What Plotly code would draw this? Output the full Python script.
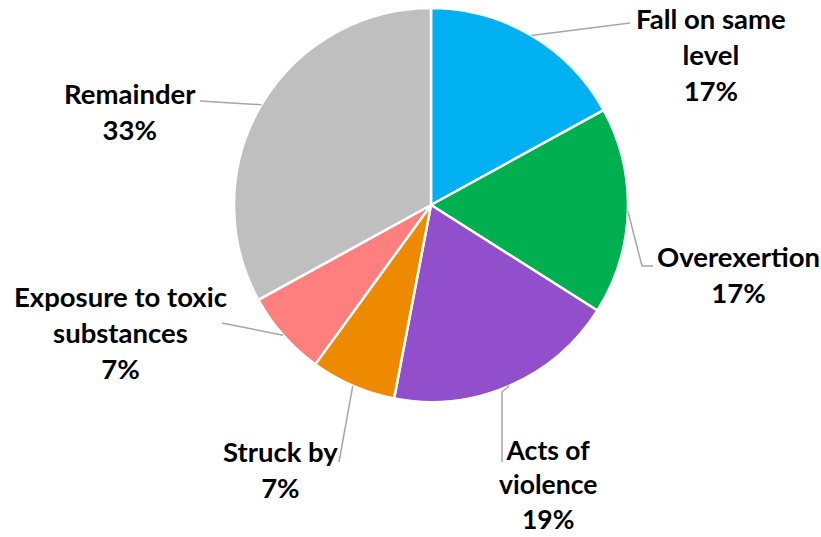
import math
import plotly.graph_objects as go

# Share of cases by event type (clockwise from 12 o'clock)
categories = ["Fall on same level", "Overexertion", "Acts of violence",
              "Struck by", "Exposure to toxic substances", "Remainder"]
values = [17, 17, 19, 7, 7, 33]
label_text = ["Fall on same<br>level", "Overexertion", "Acts of<br>violence",
              "Struck by", "Exposure to toxic<br>substances", "Remainder"]
colors = ["#00B0F0", "#00B050", "#924FCB", "#EE8A00", "#FF7F7F", "#BFBFBF"]

W, H = 821, 537
CX, CY, R = 431, 205, 197

# Label placement (pixel coords) and leader line routing
label_pos = [(711, 54), (738, 274), (548, 484), (280, 469), (120, 332), (130, 111)]
label_size = [27.5, 27.5, 26.5, 27.5, 27.5, 27.5]
leader_elbow = [None, (642, 266), (502, 392), None, None, None]
leader_end = [(630, 23), (653, 266), (502, 462), (339, 462), (222, 323), (200, 101)]

fig = go.Figure()
fig.add_trace(go.Pie(
    labels=categories, values=values, sort=False, direction="clockwise",
    rotation=0, textinfo="none", hoverinfo="label+percent",
    marker=dict(colors=colors, line=dict(color="white", width=2.5)),
    domain=dict(x=[(CX - R) / W, (CX + R) / W],
                y=[(H - CY - R) / H, (H - CY + R) / H]),
    showlegend=False,
))

total = sum(values)
cum = 0
for i, v in enumerate(values):
    mid = (cum + v / 2) / total * 2 * math.pi
    cum += v
    ax, ay = CX + R * math.sin(mid), CY - R * math.cos(mid)
    pts = [(ax, ay)]
    if leader_elbow[i]:
        pts.append(leader_elbow[i])
    pts.append(leader_end[i])
    path = "M " + " L ".join(f"{x},{y}" for x, y in pts)
    fig.add_shape(type="path", path=path, xref="x", yref="y",
                  line=dict(color="#A6A6A6", width=1.5))
    pct = round(v / total * 100)
    fig.add_annotation(x=label_pos[i][0], y=label_pos[i][1], xref="x", yref="y",
                       text=f"<b>{label_text[i]}<br>{pct}%</b>", showarrow=False,
                       align="center", xanchor="center", yanchor="middle",
                       borderpad=0,
                       font=dict(family="Lato", size=label_size[i], color="#000000"))

fig.update_layout(
    width=W, height=H, margin=dict(l=0, r=0, t=0, b=0),
    paper_bgcolor="white", plot_bgcolor="rgba(0,0,0,0)",
    xaxis=dict(range=[0, W], visible=False, fixedrange=True),
    yaxis=dict(range=[H, 0], visible=False, fixedrange=True),
)
fig.write_html("out.html")
